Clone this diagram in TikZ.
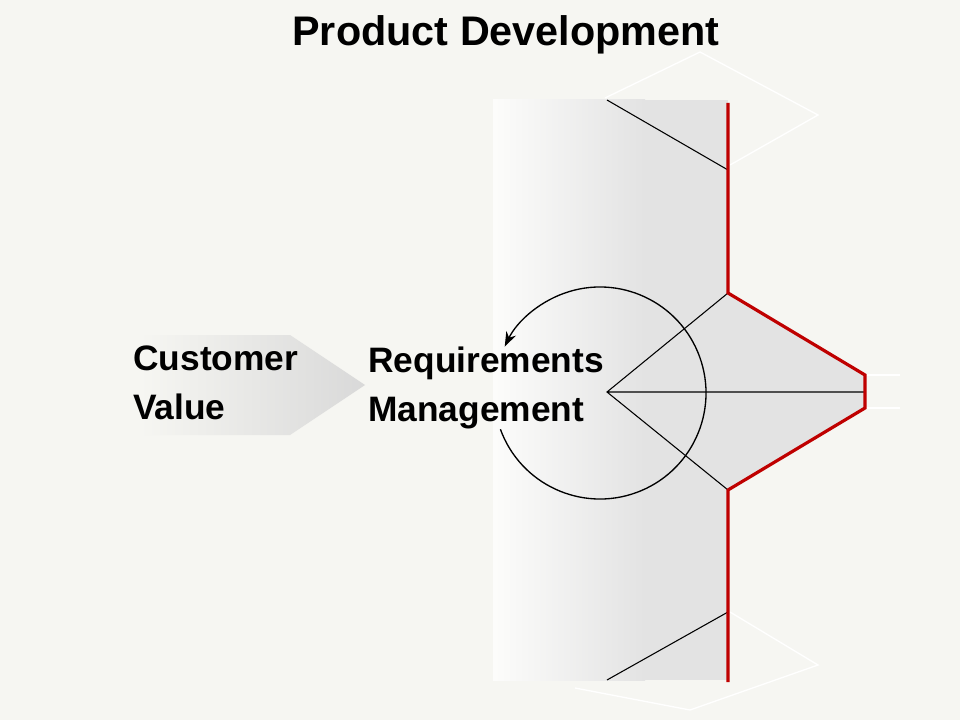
\documentclass[tikz,border=0pt]{standalone}
\usepackage{fontspec}
\usetikzlibrary{arrows.meta,calc}
\setmainfont{Liberation Sans}
\begin{document}
\begin{tikzpicture}[x=0.75pt,y=-0.75pt,
  lbl/.style={font=\bfseries\fontsize{26.5}{31}\selectfont,align=left,anchor=west,inner sep=0pt},
  thin/.style={black,line width=0.8pt},
  redl/.style={red!75!black,line width=2.4pt}]
\definecolor{bg}{HTML}{F6F6F2}
\fill[bg] (0,0) rectangle (960,720);
\useasboundingbox (0,0) rectangle (960,720);
% gray band
\shade[left color=bg!30!white,right color=gray!22] (493,100) rectangle (645,680);
\fill[gray!22] (644,100) rectangle (728,680);
\fill[gray!22] (728,293)--(865,375)--(865,408)--(728,490)--cycle;
% white faint lines
\draw[white,line width=1pt] (605,98)--(700,52)--(818,115)--(730,165);
\draw[white,line width=1pt] (575,688)--(690,710)--(818,665)--(730,612);
\draw[white,line width=1pt] (865,375)--(900,375) (865,408)--(900,408);
% black lines
\coordinate (c) at (607,392);
\coordinate (t) at (728,293);
\coordinate (b) at (728,490);
\coordinate (r) at (865,392);
\draw[thin] (607,100)--(728,170);
\draw[thin] (607,680)--(728,612);
\draw[thin] (t)--(c)--(b) (c)--(r);
% red line
\draw[redl] (728,103)--(t)--(865,375)--(865,408)--(b)--(728,682);
% circle arrow
\draw[thin,line width=1pt,-{Stealth[length=11pt,width=8pt]}] ($(600,393)+(-200:106)$) arc[start angle=-200,end angle=-514,radius=106];
% customer value arrow
\shade[left color=bg,right color=gray!30] (140,335)--(290,335)--(365,385)--(290,435)--(140,435)--cycle;
\node[lbl] (cv) at (133,383) {Customer\\[6pt]Value};
\node[lbl] (rm) at (368,388) {Requirements\\[6pt]Management};
\node[font=\bfseries\fontsize{31}{36}\selectfont,inner sep=0pt] (title) at (506,35) {Product Development};
\end{tikzpicture}
\end{document}
